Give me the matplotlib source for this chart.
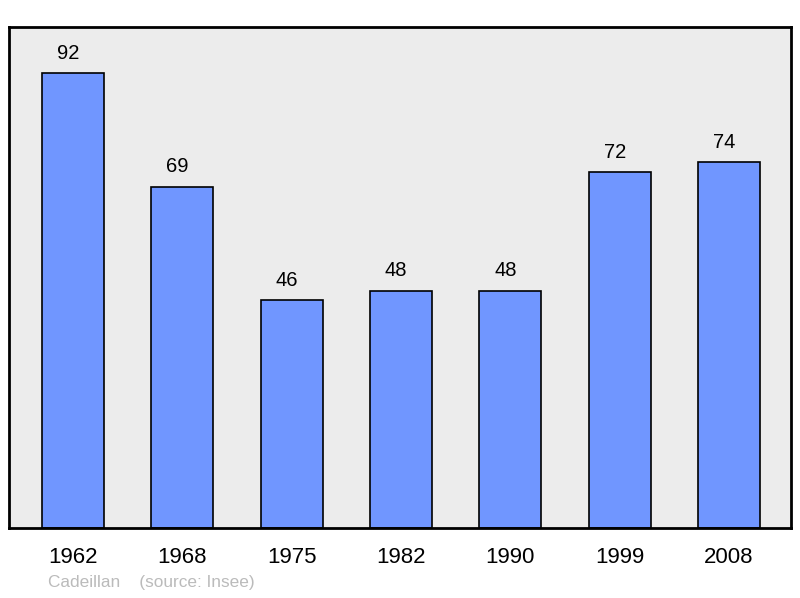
import matplotlib
matplotlib.use("Agg")
import matplotlib.pyplot as plt

years = ["1962", "1968", "1975", "1982", "1990", "1999", "2008"]
population = [92, 69, 46, 48, 48, 72, 74]
commune = "Cadeillan"
source = "(source: Insee)"

plt.rcParams['font.family'] = ['Liberation Sans', 'DejaVu Sans']

fig = plt.figure(figsize=(8, 5.98), dpi=100)
ax = fig.add_axes([9/800, 1 - 528/598, 782/800, 501/598])
ax.set_facecolor('#ececec')

x = range(len(years))
ax.bar(x, population, width=0.567, color='#7096ff', edgecolor='black', linewidth=1.2, zorder=2)
for i, v in zip(x, population):
    ax.text(i - 0.045, v + 4.0, str(v), ha='center', va='center', fontsize=14.5)

ax.set_xlim(-0.585, len(years) - 1 + 0.567)
ax.set_ylim(0, 101.3)
ax.set_xticks(list(x))
ax.set_xticklabels(years, fontsize=16)
ax.tick_params(axis='x', length=0, pad=14)
ax.set_yticks([])
for s in ax.spines.values():
    s.set_linewidth(2)

fig.text(48/800, 1 - 583/598, commune + "    " + source, color='#bbbbbb', fontsize=12.4, va='center')

fig.savefig("out.png", dpi=100)
